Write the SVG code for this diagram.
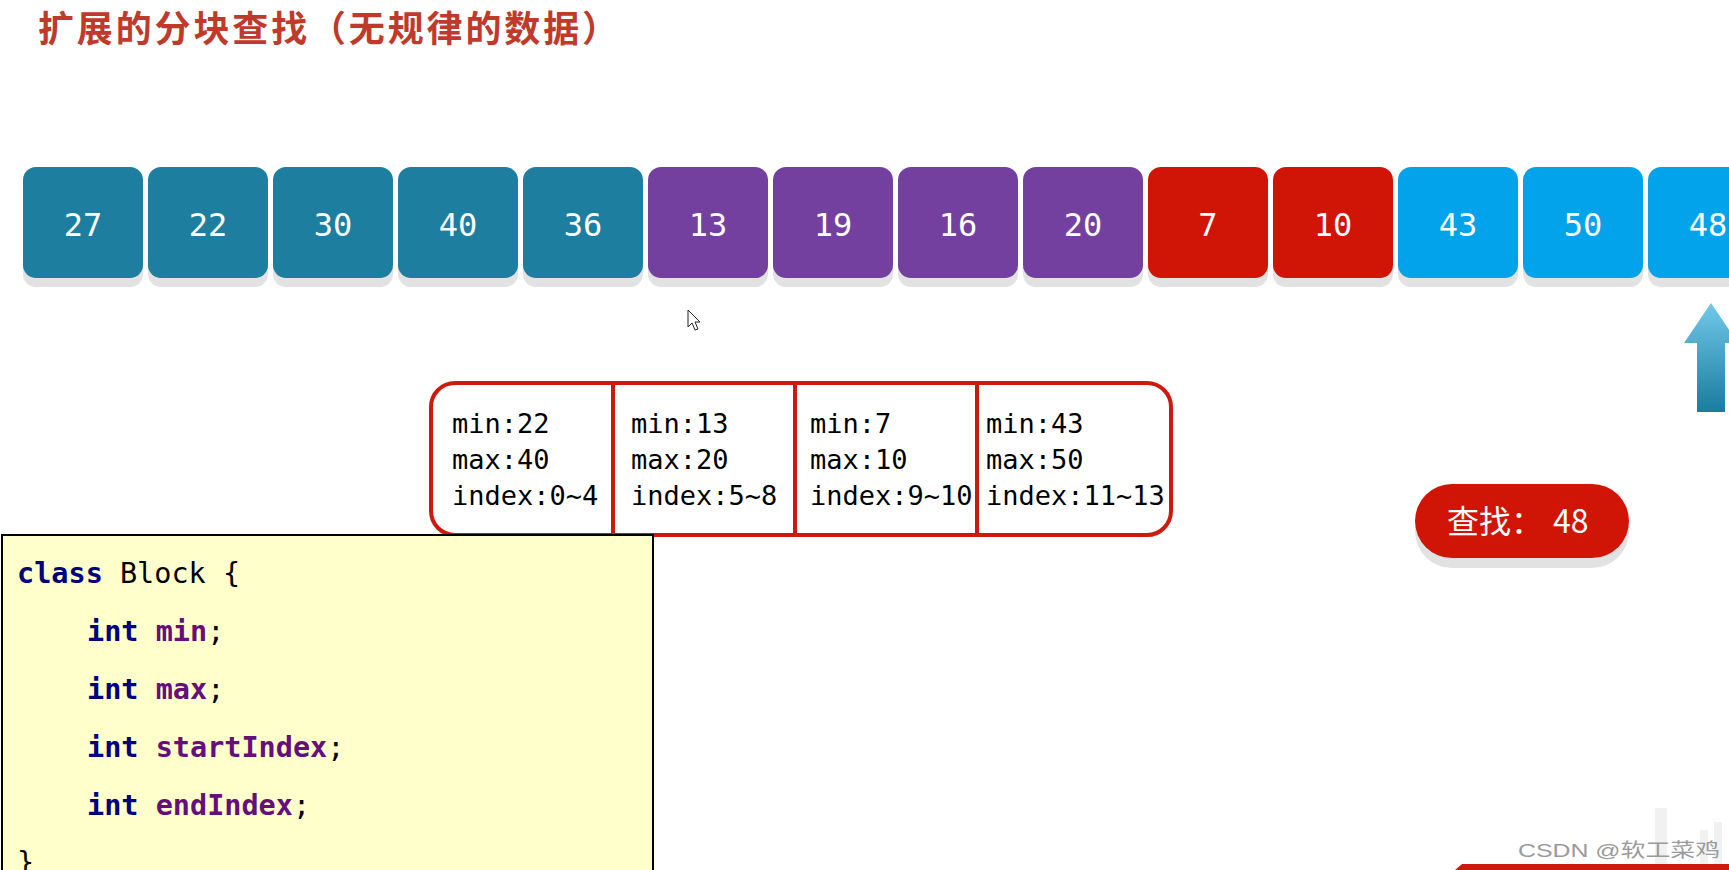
<svg xmlns="http://www.w3.org/2000/svg" width="1729" height="870" viewBox="0 0 1729 870">
<style>
.title{font-family:"Noto Sans CJK SC","Noto Sans",sans-serif;font-weight:bold;font-size:36px;fill:#c03a2b}
.num{font-family:"DejaVu Sans Mono","Liberation Mono",monospace;font-size:32px;fill:#ffffff;text-anchor:middle}
.shadow{fill:#e2e2e2}
.teal{fill:#1d7e9f}
.purple{fill:#7440a0}
.red{fill:#d01406}
.sky{fill:#02a3eb}
.cell{font-family:"DejaVu Sans Mono","Liberation Mono",monospace;font-size:27px;fill:#000000}
.code{font-family:"DejaVu Sans Mono","Liberation Mono",monospace;font-size:28.5px;fill:#000000}
.kw{fill:#000080;font-weight:bold}
.id{fill:#660e7a;font-weight:bold}
.pill{font-family:"Noto Sans CJK SC","Noto Sans",sans-serif;font-size:32px;fill:#ffffff}
.wm{font-family:"Liberation Sans","Noto Sans CJK SC",sans-serif;font-size:19px;fill:#9a9a9a}
</style>
<defs>
<linearGradient id="arrowGrad" x1="0" y1="0" x2="0" y2="1">
<stop offset="0" stop-color="#72c8ea"/>
<stop offset="1" stop-color="#1a7c9e"/>
</linearGradient>
</defs>
<rect width="1729" height="870" fill="#ffffff"/>

<text class="title" x="38" y="42" textLength="580" lengthAdjust="spacing">扩展的分块查找（无规律的数据）</text>

<g id="array">
<g id="cell0"><rect class="shadow" x="23" y="176" width="120" height="111" rx="13"/><rect class="teal" x="23" y="167" width="120" height="111" rx="13"/><text class="num" x="83" y="236">27</text></g>
<g id="cell1"><rect class="shadow" x="148" y="176" width="120" height="111" rx="13"/><rect class="teal" x="148" y="167" width="120" height="111" rx="13"/><text class="num" x="208" y="236">22</text></g>
<g id="cell2"><rect class="shadow" x="273" y="176" width="120" height="111" rx="13"/><rect class="teal" x="273" y="167" width="120" height="111" rx="13"/><text class="num" x="333" y="236">30</text></g>
<g id="cell3"><rect class="shadow" x="398" y="176" width="120" height="111" rx="13"/><rect class="teal" x="398" y="167" width="120" height="111" rx="13"/><text class="num" x="458" y="236">40</text></g>
<g id="cell4"><rect class="shadow" x="523" y="176" width="120" height="111" rx="13"/><rect class="teal" x="523" y="167" width="120" height="111" rx="13"/><text class="num" x="583" y="236">36</text></g>
<g id="cell5"><rect class="shadow" x="648" y="176" width="120" height="111" rx="13"/><rect class="purple" x="648" y="167" width="120" height="111" rx="13"/><text class="num" x="708" y="236">13</text></g>
<g id="cell6"><rect class="shadow" x="773" y="176" width="120" height="111" rx="13"/><rect class="purple" x="773" y="167" width="120" height="111" rx="13"/><text class="num" x="833" y="236">19</text></g>
<g id="cell7"><rect class="shadow" x="898" y="176" width="120" height="111" rx="13"/><rect class="purple" x="898" y="167" width="120" height="111" rx="13"/><text class="num" x="958" y="236">16</text></g>
<g id="cell8"><rect class="shadow" x="1023" y="176" width="120" height="111" rx="13"/><rect class="purple" x="1023" y="167" width="120" height="111" rx="13"/><text class="num" x="1083" y="236">20</text></g>
<g id="cell9"><rect class="shadow" x="1148" y="176" width="120" height="111" rx="13"/><rect class="red" x="1148" y="167" width="120" height="111" rx="13"/><text class="num" x="1208" y="236">7</text></g>
<g id="cell10"><rect class="shadow" x="1273" y="176" width="120" height="111" rx="13"/><rect class="red" x="1273" y="167" width="120" height="111" rx="13"/><text class="num" x="1333" y="236">10</text></g>
<g id="cell11"><rect class="shadow" x="1398" y="176" width="120" height="111" rx="13"/><rect class="sky" x="1398" y="167" width="120" height="111" rx="13"/><text class="num" x="1458" y="236">43</text></g>
<g id="cell12"><rect class="shadow" x="1523" y="176" width="120" height="111" rx="13"/><rect class="sky" x="1523" y="167" width="120" height="111" rx="13"/><text class="num" x="1583" y="236">50</text></g>
<g id="cell13"><rect class="shadow" x="1648" y="176" width="120" height="111" rx="13"/><rect class="sky" x="1648" y="167" width="120" height="111" rx="13"/><text class="num" x="1708" y="236">48</text></g>
</g>

<g id="cursor">
<path d="M688 310 L688 327 L692 323 L695 330 L698 329 L695 322 L700 322 Z" fill="#ffffff" stroke="#222222" stroke-width="1" stroke-linejoin="round"/>
</g>

<g id="connectors">
<path id="pointer" d="M1711 303 L1738 343 L1725 343 L1725 412 L1697 412 L1697 343 L1684 343 Z" fill="url(#arrowGrad)"/>
</g>

<g id="blocks">
<rect x="431" y="383" width="740" height="152" rx="24" fill="#ffffff" stroke="#cc1a0e" stroke-width="4"/>
<line x1="613" y1="383" x2="613" y2="535" stroke="#cc1a0e" stroke-width="4"/>
<line x1="795" y1="383" x2="795" y2="535" stroke="#cc1a0e" stroke-width="4"/>
<line x1="977" y1="383" x2="977" y2="535" stroke="#cc1a0e" stroke-width="4"/>
<g id="block0"><text class="cell" x="452" y="433">min:22</text><text class="cell" x="452" y="469">max:40</text><text class="cell" x="452" y="505">index:0~4</text></g>
<g id="block1"><text class="cell" x="631" y="433">min:13</text><text class="cell" x="631" y="469">max:20</text><text class="cell" x="631" y="505">index:5~8</text></g>
<g id="block2"><text class="cell" x="810" y="433">min:7</text><text class="cell" x="810" y="469">max:10</text><text class="cell" x="810" y="505">index:9~10</text></g>
<g id="block3"><text class="cell" x="986" y="433">min:43</text><text class="cell" x="986" y="469">max:50</text><text class="cell" x="986" y="505">index:11~13</text></g>
</g>

<g id="code">
<rect x="2" y="535" width="651" height="345" fill="#ffffcc" stroke="#000000" stroke-width="2"/>
<text class="code" x="17" y="583"><tspan class="kw">class</tspan> Block {</text>
<text class="code" x="87" y="641"><tspan class="kw">int</tspan> <tspan class="id">min</tspan>;</text>
<text class="code" x="87" y="699"><tspan class="kw">int</tspan> <tspan class="id">max</tspan>;</text>
<text class="code" x="87" y="757"><tspan class="kw">int</tspan> <tspan class="id">startIndex</tspan>;</text>
<text class="code" x="87" y="815"><tspan class="kw">int</tspan> <tspan class="id">endIndex</tspan>;</text>
<text class="code" x="17" y="872">}</text>
</g>

<g id="search">
<rect x="1415" y="494" width="214" height="74" rx="37" fill="#e2e2e2"/>
<rect x="1415" y="484" width="214" height="74" rx="37" fill="#d01406"/>
<text class="pill" x="1447" y="533">查找：<tspan x="1553">48</tspan></text>
</g>

<g id="watermark">
<rect x="1655" y="808" width="12" height="56" fill="#f1f1f1"/>
<rect x="1700" y="830" width="8" height="34" fill="#f1f1f1"/>
<rect x="1714" y="822" width="8" height="42" fill="#f1f1f1"/>
<text class="wm" x="1518" y="857" textLength="202" lengthAdjust="spacingAndGlyphs">CSDN @软工菜鸡</text>
<path d="M1462 864 L1729 864 L1729 870 L1455 870 Z" fill="#cc1a0e"/>
</g>
</svg>
